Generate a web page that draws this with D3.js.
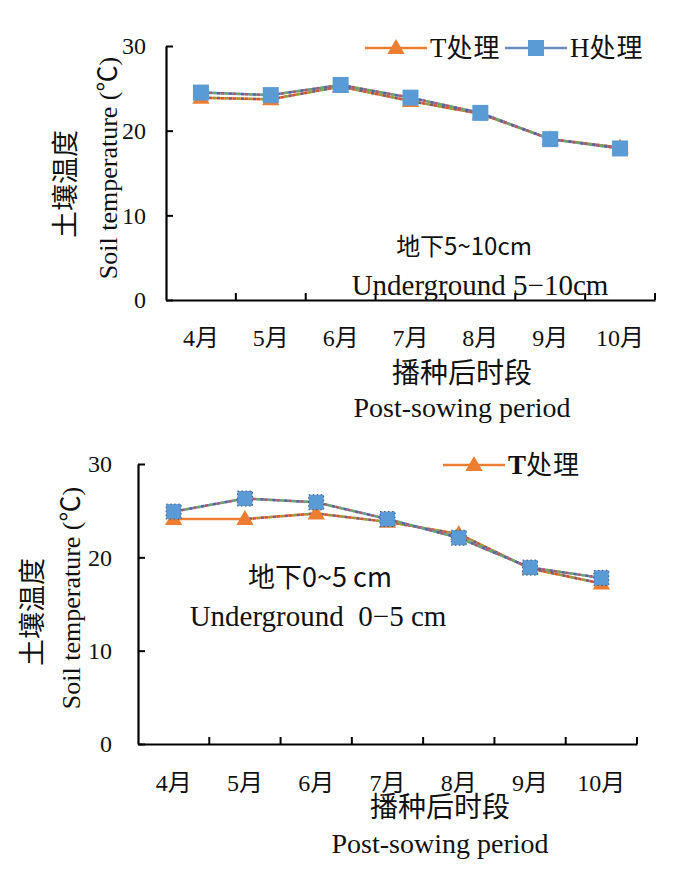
<!DOCTYPE html>
<html>
<head>
<meta charset="utf-8">
<script src="https://cdn.jsdelivr.net/npm/d3@7"></script>
<style>
  body { margin: 0; background: #fff; }
  text { font-family: "Liberation Serif", "Noto Sans CJK SC", serif; fill: #111; }
  .cn { font-family: "Noto Sans CJK SC", sans-serif; }
</style>
</head>
<body>
<svg id="chart" width="700" height="873"></svg>
<script>
// ---- data ----
const months = ["4月", "5月", "6月", "7月", "8月", "9月", "10月"];
const yTicks = [0, 10, 20, 30];

// 地下5~10cm
const top_T = [23.9, 23.7, 25.2, 23.5, 22.0, 19.0, 18.0];
const top_H = [24.5, 24.2, 25.4, 23.9, 22.1, 19.0, 17.9];
// 地下0~5 cm
const bot_T = [24.1, 24.1, 24.7, 23.8, 22.5, 18.8, 17.2];
const bot_H = [24.9, 26.3, 25.9, 24.1, 22.1, 18.9, 17.8];

const ORANGE = "#ed7d31", BLUE = "#5b9bd5";

const svg = d3.select("#chart");

// funkcja rysowania jednego wykresu
function drawPanel(cfg) {
  const g = svg.append("g");

  const x = d3.scaleBand().domain(months).range([cfg.x0, cfg.x1]).padding(0);
  const y = d3.scaleLinear().domain([0, 30]).range([cfg.y0, cfg.y1]);
  const cx = d => x(d) + x.bandwidth() / 2;

  // os Y
  const yAxis = g.append("g")
    .attr("transform", `translate(${cfg.x0},0)`)
    .call(d3.axisLeft(y).tickValues(yTicks).tickSize(-7).tickSizeOuter(0).tickPadding(cfg.yPad));
  yAxis.select(".domain").attr("stroke", "#000").attr("stroke-width", 2.2);
  yAxis.selectAll(".tick line").attr("stroke", "#000").attr("stroke-width", 2);
  yAxis.selectAll(".tick text").attr("font-size", 24)
    .style("font-family", "Liberation Serif").attr("fill", "#333");

  // os X
  const xAxis = g.append("g")
    .attr("transform", `translate(0,${cfg.y0})`)
    .call(d3.axisBottom(x).tickSize(0).tickSizeOuter(0).tickPadding(cfg.xPad));
  xAxis.select(".domain").attr("stroke", "#000").attr("stroke-width", 2.2);
  xAxis.selectAll(".tick text").attr("font-size", 24).attr("fill", "#222");

  // kreski na granicach kategorii
  g.append("g").selectAll("line")
    .data(months.slice(1).concat(["end"]))
    .enter().append("line")
    .attr("x1", d => d === "end" ? cfg.x1 : x(d))
    .attr("x2", d => d === "end" ? cfg.x1 : x(d))
    .attr("y1", cfg.y0).attr("y2", cfg.y0 - 7)
    .attr("stroke", "#000").attr("stroke-width", 2);

  const line = d3.line().x((d, i) => cx(months[i])).y(d => y(d));

  // linie serii z kolorowymi kreskami
  function seriesLine(vals, color, dashFrom) {
    g.append("path").datum(vals).attr("d", line)
      .attr("fill", "none").attr("stroke", color).attr("stroke-width", 2.5);
    const part = vals.map((v, i) => i >= dashFrom ? v : null);
    const dline = d3.line().defined(d => d !== null)
      .x((d, i) => cx(months[i])).y(d => y(d));
    [["#70ad47", "3 9", 0], ["#c0504d", "3 9", 4], ["#5a5a8a", "3 9", 8]].forEach(([c, da, off]) => {
      g.append("path").datum(part).attr("d", dline)
        .attr("fill", "none").attr("stroke", c).attr("stroke-width", 2.5)
        .attr("stroke-dasharray", da).attr("stroke-dashoffset", off).attr("opacity", 0.85);
    });
  }
  seriesLine(cfg.T, ORANGE, cfg.tDashFrom);
  seriesLine(cfg.H, "#6a8fc0", 0);

  // znaczniki
  const tri = d3.symbol().type(d3.symbolTriangle).size(130);
  g.append("g").selectAll("path")
    .data(cfg.T).enter().append("path")
    .attr("d", tri)
    .attr("transform", (d, i) => `translate(${cx(months[i])},${y(d) + 1})`)
    .attr("fill", ORANGE);

  const s = cfg.sq;
  g.append("g").selectAll("rect")
    .data(cfg.H).enter().append("rect")
    .attr("x", (d, i) => cx(months[i]) - s / 2)
    .attr("y", d => y(d) - s / 2)
    .attr("width", s).attr("height", s)
    .attr("fill", BLUE)
    .attr("stroke", cfg.sqStroke ? "#44546a" : "none")
    .attr("stroke-width", 1).attr("stroke-dasharray", "1.5 2.5");

  // opisy osi
  g.append("text").attr("class", "cn")
    .attr("transform", `translate(${cfg.cnYx},${cfg.cnYy}) rotate(-90)`)
    .attr("text-anchor", "middle").attr("dy", "0.35em")
    .attr("font-size", 27).text("土壤温度");
  g.append("text")
    .attr("transform", `translate(${cfg.enYx},${cfg.enYy}) rotate(-90)`)
    .attr("text-anchor", "middle").attr("dy", "0.35em")
    .attr("font-size", 26).text("Soil temperature (℃)");

  g.append("text").attr("class", "cn")
    .attr("x", cfg.xTitleX).attr("y", cfg.xTitleY)
    .attr("text-anchor", "middle").attr("dy", "0.35em")
    .attr("font-size", 28).text("播种后时段");
  g.append("text")
    .attr("x", cfg.xTitleX).attr("y", cfg.xTitleY + cfg.xTitleGap)
    .attr("text-anchor", "middle").attr("dy", "0.35em")
    .attr("font-size", 28).text("Post-sowing period");

  // podpis glebokosci
  g.append("text").attr("class", "cn")
    .attr("x", cfg.noteX).attr("y", cfg.noteY)
    .attr("text-anchor", "middle").attr("dy", "0.35em")
    .attr("font-size", cfg.note1Size).text(cfg.note1);
  g.append("text")
    .attr("x", cfg.noteX2).attr("y", cfg.noteY + 38)
    .attr("text-anchor", "middle").attr("dy", "0.35em")
    .attr("font-size", 29).style("white-space", "pre")
    .text(cfg.note2);

  // legenda
  cfg.legend.forEach(item => {
    const lg = g.append("g").attr("transform", `translate(${item.x},${cfg.legY})`);
    lg.append("line").attr("x1", 0).attr("x2", 62)
      .attr("stroke", item.color).attr("stroke-width", 2.5);
    if (item.shape === "tri") {
      lg.append("path").attr("d", tri).attr("transform", "translate(31,1)").attr("fill", ORANGE);
    } else {
      lg.append("rect").attr("x", 31 - s / 2).attr("y", -s / 2)
        .attr("width", s).attr("height", s).attr("fill", BLUE);
    }
    lg.append("text").attr("x", 65).attr("dy", "0.35em")
      .attr("font-size", 27).attr("font-weight", item.bold ? "bold" : "normal")
      .text(item.label[0])
      .append("tspan").attr("class", "cn").attr("font-weight", "normal")
      .attr("font-size", 26).attr("letter-spacing", 1)
      .style("font-family", "Noto Sans CJK SC").text(item.label.slice(1));
  });
}

drawPanel({
  x0: 166, x1: 655, y0: 300, y1: 46, yPad: 20, xPad: 29,
  T: top_T, H: top_H, tDashFrom: 0, sq: 16, sqStroke: false,
  cnYx: 66, cnYy: 184, enYx: 108, enYy: 168,
  xTitleX: 462, xTitleY: 373, xTitleGap: 34,
  noteX: 464, noteX2: 480, noteY: 247, note1Size: 24,
  note1: "地下5~10cm", note2: "Underground 5−10cm",
  legY: 48,
  legend: [
    { x: 365, color: ORANGE, shape: "tri", label: "T处理" },
    { x: 505, color: "#6a8fc0", shape: "sq", label: "H处理" }
  ]
});

drawPanel({
  x0: 138, x1: 637, y0: 744, y1: 464, yPad: 26, xPad: 30,
  T: bot_T, H: bot_H, tDashFrom: 1, sq: 15, sqStroke: true,
  cnYx: 33, cnYy: 612, enYx: 71, enYy: 598,
  xTitleX: 440, xTitleY: 807, xTitleGap: 36,
  noteX: 320, noteX2: 318, noteY: 578, note1Size: 27,
  note1: "地下0~5 cm", note2: "Underground  0−5 cm",
  legY: 465,
  legend: [
    { x: 443, color: ORANGE, shape: "tri", label: "T处理", bold: true }
  ]
});
</script>
</body>
</html>
